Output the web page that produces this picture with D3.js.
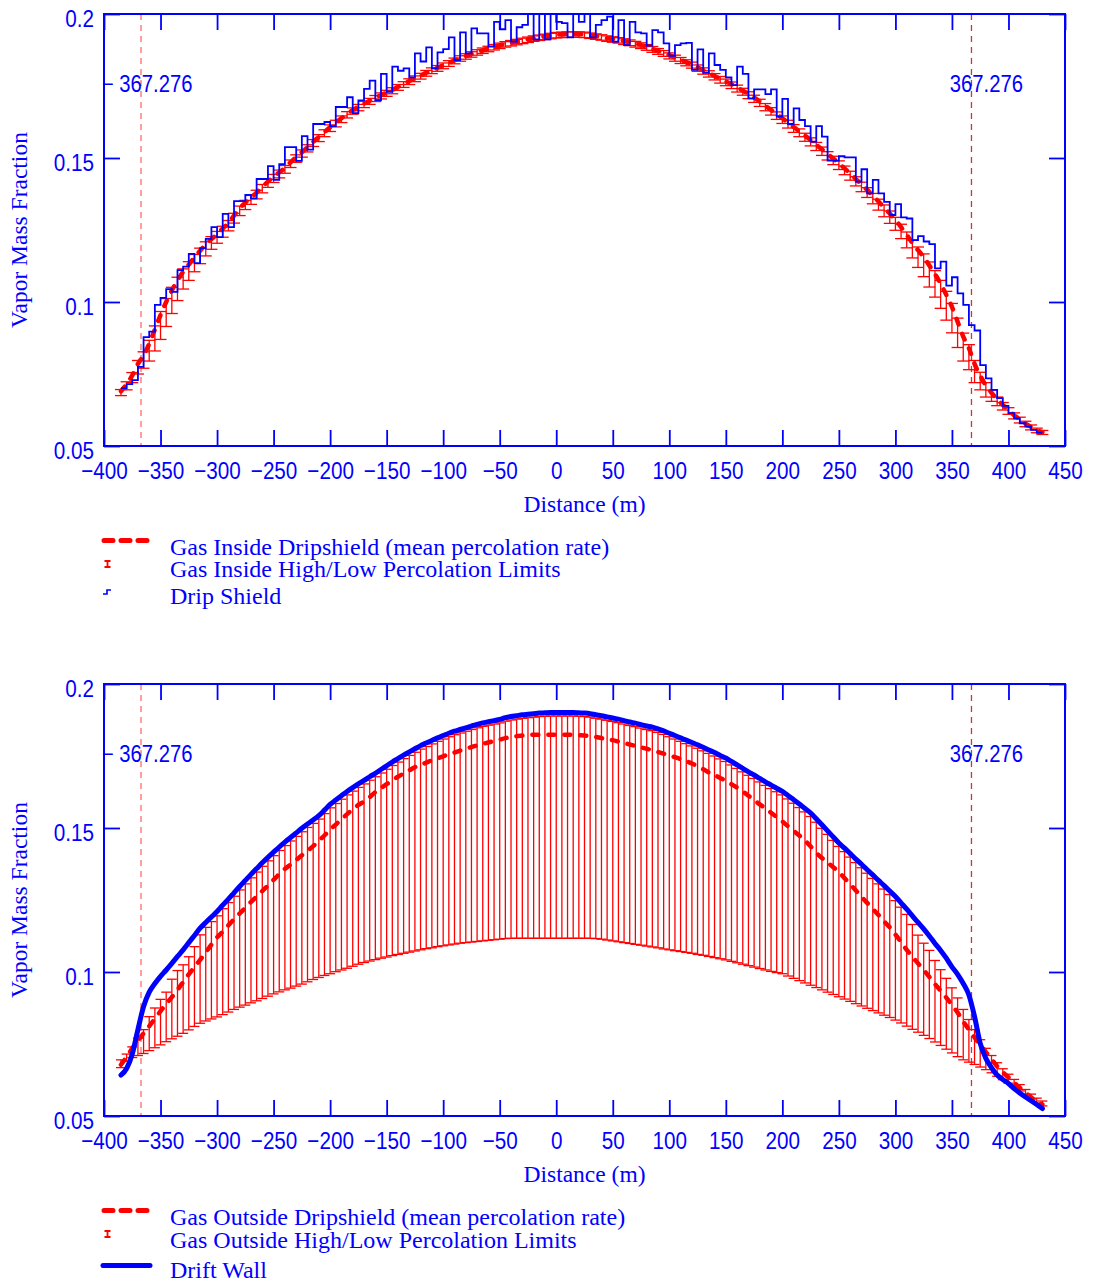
<!DOCTYPE html>
<html><head><meta charset="utf-8">
<script src="https://cdn.jsdelivr.net/npm/d3@7"></script>
<style>
body{margin:0;background:#fff;}
</style></head><body>
<svg id="c" width="1094" height="1285" xmlns="http://www.w3.org/2000/svg"></svg>
<script>
// ---------------- DATA ----------------
const distance = [
-385,-380,-375,-370,-365,-360,-355,-350,-345,-340,
-335,-330,-325,-320,-315,-310,-305,-300,-295,-290,
-285,-280,-275,-270,-265,-260,-255,-250,-245,-240,
-235,-230,-225,-220,-215,-210,-205,-200,-195,-190,
-185,-180,-175,-170,-165,-160,-155,-150,-145,-140,
-135,-130,-125,-120,-115,-110,-105,-100,-95,-90,
-85,-80,-75,-70,-65,-60,-55,-50,-45,-40,
-35,-30,-25,-20,-15,-10,-5,0,5,10,
15,20,25,30,35,40,45,50,55,60,
65,70,75,80,85,90,95,100,105,110,
115,120,125,130,135,140,145,150,155,160,
165,170,175,180,185,190,195,200,205,210,
215,220,225,230,235,240,245,250,255,260,
265,270,275,280,285,290,295,300,305,310,
315,320,325,330,335,340,345,350,355,360,
365,370,375,380,385,390,395,400,405,410,
415,420,425,430];

const xTickValues = [-400,-350,-300,-250,-200,-150,-100,-50,0,50,100,150,200,250,300,350,400,450];
const yTickValues = [0.05,0.1,0.15,0.2];
const refDistances = [-367.276, 367.276];
const refLabels = ["\u2212 367.276", "367.276"];

// Top panel: gas inside drip shield
const meanInside = [
.0690,.0715,.0745,.0785,.0815,.0855,.0905,.0955,.1000,.1040,
.1075,.1105,.1130,.1155,.1178,.1200,.1218,.1236,.1255,.1275,
.1300,.1325,.1345,.1362,.1380,.1400,.1418,.1435,.1450,.1466,
.1485,.1503,.1520,.1538,.1556,.1573,.1590,.1607,.1623,.1638,
.1653,.1666,.1678,.1689,.1699,.1709,.1718,.1727,.1736,.1747,
.1757,.1767,.1777,.1786,.1796,.1805,.1813,.1822,.1830,.1839,
.1847,.1854,.1861,.1868,.1874,.1880,.1886,.1891,.1896,.1900,
.1904,.1908,.1912,.1916,.1919,.1922,.1925,.1928,.1929,.1930,
.1930,.1930,.1929,.1926,.1923,.1920,.1916,.1913,.1910,.1906,
.1902,.1897,.1892,.1886,.1879,.1872,.1865,.1857,.1849,.1841,
.1833,.1825,.1815,.1805,.1795,.1785,.1775,.1766,.1756,.1745,
.1734,.1722,.1710,.1696,.1681,.1667,.1652,.1638,.1623,.1608,
.1593,.1578,.1562,.1546,.1530,.1514,.1498,.1482,.1464,.1446,
.1427,.1408,.1389,.1369,.1349,.1328,.1307,.1285,.1260,.1233,
.1205,.1180,.1156,.1127,.1097,.1063,.1025,.0983,.0932,.0880,
.0840,.0785,.0745,.0710,.0685,.0662,.0643,.0625,.0607,.0592,
.0578,.0566,.0555,.0548];

const insideErrDown = [
.0015,.0020,.0025,.0035,.0045,.0060,.0075,.0085,.0085,.0080,
.0070,.0060,.0055,.0050,.0045,.0040,.0035,.0032,.0030,.0028,
.0026,.0025,.0024,.0023,.0022,.0021,.0020,.0020,.0019,.0019,
.0018,.0018,.0017,.0017,.0016,.0016,.0016,.0015,.0015,.0015,
.0014,.0014,.0014,.0014,.0013,.0013,.0013,.0013,.0013,.0012,
.0012,.0012,.0012,.0012,.0012,.0012,.0012,.0012,.0012,.0012,
.0011,.0011,.0011,.0011,.0011,.0011,.0011,.0011,.0011,.0011,
.0011,.0011,.0011,.0011,.0011,.0011,.0011,.0011,.0011,.0011,
.0011,.0011,.0011,.0011,.0011,.0011,.0011,.0011,.0011,.0012,
.0012,.0012,.0012,.0012,.0012,.0012,.0012,.0013,.0013,.0013,
.0013,.0013,.0014,.0014,.0014,.0014,.0015,.0015,.0015,.0016,
.0016,.0016,.0017,.0017,.0017,.0018,.0018,.0018,.0019,.0019,
.0019,.0020,.0020,.0020,.0021,.0021,.0021,.0022,.0022,.0023,
.0024,.0025,.0026,.0028,.0030,.0032,.0034,.0036,.0040,.0045,
.0052,.0060,.0068,.0075,.0080,.0085,.0088,.0090,.0090,.0085,
.0075,.0065,.0050,.0040,.0030,.0022,.0018,.0015,.0013,.0012,
.0011,.0010,.0009,.0008];

const insideErrUp = [
.0006,.0008,.0010,.0012,.0012,.0012,.0012,.0012,.0012,.0011,
.0011,.0010,.0010,.0010,.0009,.0009,.0009,.0009,.0008,.0008,
.0008,.0008,.0008,.0008,.0008,.0008,.0008,.0008,.0008,.0008,
.0008,.0008,.0008,.0008,.0008,.0008,.0008,.0008,.0008,.0008,
.0008,.0008,.0008,.0008,.0008,.0008,.0008,.0008,.0008,.0008,
.0008,.0008,.0008,.0008,.0008,.0008,.0008,.0008,.0008,.0008,
.0008,.0008,.0008,.0008,.0008,.0008,.0008,.0008,.0008,.0008,
.0008,.0008,.0008,.0008,.0008,.0008,.0008,.0008,.0008,.0008,
.0008,.0008,.0008,.0008,.0008,.0008,.0008,.0008,.0008,.0008,
.0008,.0008,.0008,.0008,.0008,.0008,.0008,.0008,.0008,.0008,
.0008,.0008,.0008,.0008,.0008,.0008,.0008,.0008,.0008,.0008,
.0008,.0008,.0008,.0008,.0008,.0008,.0008,.0008,.0008,.0008,
.0008,.0008,.0008,.0008,.0008,.0008,.0008,.0008,.0008,.0008,
.0008,.0008,.0008,.0008,.0008,.0009,.0009,.0009,.0010,.0010,
.0010,.0011,.0011,.0012,.0012,.0012,.0012,.0012,.0012,.0012,
.0012,.0012,.0011,.0010,.0009,.0008,.0008,.0008,.0008,.0008,
.0008,.0007,.0007,.0006];

const dripShield = [
.0701,.0715,.0729,.0775,.0878,.0897,.0990,.1014,.1045,.1035,
.1111,.1123,.1167,.1135,.1187,.1219,.1260,.1225,.1306,.1260,
.1350,.1350,.1372,.1360,.1427,.1427,.1472,.1424,.1479,.1538,
.1538,.1490,.1576,.1529,.1618,.1618,.1625,.1611,.1677,.1677,
.1711,.1656,.1700,.1740,.1769,.1701,.1792,.1730,.1817,.1803,
.1811,.1780,.1863,.1835,.1884,.1811,.1867,.1878,.1919,.1840,
.1936,.1863,.1950,.1933,.1933,.1887,.1973,.1947,.1979,.1904,
.1954,.1962,.2005,.1912,.2005,.1912,.2005,.1973,.1968,.1919,
.2005,.1973,.2005,.1919,.1962,.1979,.1991,.1904,.1979,.1892,
.1973,.1936,.1933,.1890,.1944,.1936,.1898,.1855,.1892,.1898,
.1900,.1806,.1877,.1796,.1863,.1823,.1806,.1780,.1753,.1817,
.1792,.1707,.1738,.1738,.1722,.1738,.1644,.1705,.1618,.1672,
.1632,.1611,.1557,.1611,.1574,.1491,.1491,.1506,.1502,.1502,
.1418,.1461,.1377,.1424,.1377,.1348,.1302,.1340,.1294,.1290,
.1215,.1229,.1210,.1201,.1117,.1140,.1057,.1086,.1030,.0990,
.0920,.0901,.0781,.0735,.0695,.0666,.0639,.0614,.0596,.0579,
.0567,.0556,.0546,.0546];

// Bottom panel: gas outside drip shield
const meanOutside = [
.0678,.0705,.0735,.0762,.0787,.0812,.0838,.0864,.0889,.0913,
.0938,.0965,.0992,.1017,.1042,.1068,.1095,.1120,.1140,.1162,
.1183,.1203,.1223,.1243,.1262,.1281,.1300,.1320,.1340,.1358,
.1373,.1389,.1405,.1421,.1437,.1455,.1474,.1494,.1512,.1530,
.1548,.1565,.1580,.1592,.1607,.1625,.1639,.1652,.1665,.1678,
.1689,.1700,.1711,.1719,.1727,.1735,.1742,.1749,.1756,.1762,
.1769,.1775,.1781,.1787,.1792,.1797,.1802,.1807,.1812,.1816,
.1819,.1821,.1823,.1824,.1824,.1824,.1824,.1824,.1824,.1824,
.1823,.1822,.1821,.1819,.1816,.1812,.1809,.1805,.1800,.1795,
.1790,.1785,.1780,.1775,.1770,.1764,.1758,.1752,.1746,.1739,
.1732,.1724,.1714,.1704,.1693,.1684,.1674,.1664,.1652,.1640,
.1627,.1612,.1597,.1582,.1568,.1553,.1538,.1523,.1506,.1490,
.1474,.1457,.1436,.1414,.1396,.1380,.1364,.1347,.1326,.1305,
.1283,.1261,.1240,.1219,.1198,.1176,.1155,.1130,.1104,.1077,
.1053,.1030,.1007,.0983,.0958,.0935,.0911,.0886,.0859,.0828,
.0800,.0773,.0747,.0722,.0697,.0672,.0652,.0634,.0616,.0598,
.0581,.0565,.0551,.0540];

const outsideLow = [
.0668,.0690,.0703,.0710,.0717,.0727,.0737,.0747,.0758,.0768,
.0777,.0787,.0799,.0811,.0822,.0830,.0837,.0844,.0852,.0861,
.0870,.0878,.0885,.0893,.0900,.0908,.0916,.0924,.0931,.0938,
.0944,.0951,.0958,.0966,.0974,.0981,.0988,.0994,.1001,.1007,
.1013,.1020,.1027,.1033,.1038,.1043,.1048,.1052,.1057,.1061,
.1065,.1069,.1073,.1077,.1081,.1084,.1088,.1091,.1094,.1097,
.1100,.1102,.1104,.1106,.1108,.1110,.1112,.1114,.1116,.1117,
.1117,.1117,.1117,.1117,.1117,.1117,.1117,.1117,.1117,.1117,
.1117,.1117,.1117,.1117,.1116,.1114,.1111,.1108,.1105,.1102,
.1099,.1096,.1093,.1090,.1087,.1084,.1080,.1077,.1074,.1071,
.1068,.1065,.1061,.1058,.1054,.1050,.1046,.1042,.1037,.1032,
.1027,.1022,.1017,.1012,.1007,.1002,.0998,.0994,.0986,.0978,
.0970,.0962,.0954,.0946,.0938,.0930,.0922,.0914,.0906,.0898,
.0890,.0882,.0874,.0866,.0858,.0850,.0842,.0833,.0823,.0812,
.0801,.0791,.0780,.0769,.0757,.0745,.0732,.0719,.0706,.0695,
.0687,.0679,.0670,.0661,.0650,.0638,.0626,.0614,.0601,.0587,
.0573,.0559,.0545,.0535];

const outsideHigh = [
.0695,.0715,.0740,.0770,.0800,.0845,.0875,.0905,.0930,.0975,
.1005,.1025,.1053,.1088,.1129,.1155,.1175,.1195,.1220,.1241,
.1263,.1285,.1306,.1327,.1347,.1367,.1386,.1404,.1422,.1439,
.1455,.1471,.1487,.1502,.1516,.1531,.1550,.1570,.1585,.1600,
.1615,.1628,.1641,.1653,.1666,.1678,.1691,.1704,.1717,.1729,
.1741,.1752,.1763,.1774,.1783,.1792,.1801,.1809,.1817,.1824,
.1830,.1836,.1842,.1848,.1853,.1857,.1861,.1865,.1871,.1875,
.1878,.1881,.1883,.1885,.1887,.1888,.1889,.1889,.1889,.1889,
.1889,.1888,.1887,.1885,.1881,.1878,.1874,.1870,.1866,.1861,
.1856,.1852,.1847,.1842,.1838,.1832,.1825,.1817,.1809,.1801,
.1793,.1785,.1777,.1768,.1759,.1750,.1740,.1731,.1719,.1707,
.1695,.1683,.1672,.1660,.1648,.1637,.1626,.1615,.1601,.1586,
.1571,.1556,.1540,.1520,.1499,.1478,.1457,.1436,.1418,.1399,
.1380,.1362,.1343,.1325,.1306,.1288,.1269,.1248,.1225,.1200,
.1165,.1128,.1100,.1075,.1040,.1008,.0978,.0945,.0910,.0870,
.0835,.0800,.0765,.0735,.0710,.0685,.0664,.0645,.0627,.0609,
.0592,.0576,.0562,.0552];

const driftWall = [
.0642,.0665,.0715,.0800,.0880,.0930,.0960,.0985,.1007,.1030,
.1054,.1077,.1102,.1127,.1152,.1172,.1191,.1210,.1232,.1253,
.1275,.1297,.1318,.1339,.1359,.1379,.1398,.1416,.1434,.1451,
.1467,.1483,.1499,.1514,.1528,.1543,.1562,.1582,.1597,.1612,
.1627,.1640,.1653,.1665,.1678,.1690,.1703,.1716,.1729,.1741,
.1753,.1764,.1775,.1786,.1795,.1804,.1813,.1821,.1829,.1836,
.1842,.1848,.1854,.1860,.1865,.1869,.1873,.1877,.1883,.1887,
.1890,.1893,.1895,.1897,.1899,.1900,.1901,.1901,.1901,.1901,
.1901,.1900,.1899,.1897,.1893,.1890,.1886,.1882,.1878,.1873,
.1868,.1864,.1859,.1854,.1850,.1844,.1837,.1829,.1821,.1813,
.1805,.1797,.1789,.1780,.1771,.1762,.1752,.1743,.1731,.1719,
.1707,.1695,.1684,.1672,.1660,.1649,.1638,.1627,.1613,.1598,
.1583,.1568,.1552,.1532,.1511,.1490,.1469,.1448,.1430,.1411,
.1392,.1374,.1355,.1337,.1318,.1300,.1281,.1262,.1240,.1218,
.1195,.1172,.1150,.1125,.1099,.1075,.1048,.1018,.0992,.0960,
.0920,.0845,.0752,.0700,.0668,.0642,.0627,.0613,.0595,.0580,
.0566,.0553,.0540,.0526];

const legendTop = ["Gas Inside Dripshield (mean percolation rate)", "Gas Inside High/Low Percolation Limits", "Drip Shield"];
const legendBottom = ["Gas Outside Dripshield (mean percolation rate)", "Gas Outside High/Low Percolation Limits", "Drift Wall"];

// ---------------- DRAWING ----------------
const BLUE = "#0000ff", RED = "#ff0000";
const NUM_FONT = "'Liberation Sans', Arial, sans-serif";
const SERIF = "'Liberation Serif', 'Times New Roman', serif";
const svg = d3.select("#c");
const x = d3.scaleLinear().domain([-400, 450]).range([104, 1065]);
const PH = 432;

function drawPanel(cfg) {
  const top = cfg.top, bot = top + PH;
  const y = d3.scaleLinear().domain([0.05, 0.2]).range([bot, top]);
  const g = svg.append("g");
  const clipId = "clip" + cfg.id;
  svg.append("clipPath").attr("id", clipId).append("rect")
    .attr("x", x.range()[0]).attr("y", top).attr("width", x.range()[1] - x.range()[0]).attr("height", PH);

  // reference dashed lines
  refDistances.forEach((r, i) => {
    g.append("line").attr("x1", x(r)).attr("x2", x(r)).attr("y1", top).attr("y2", bot)
      .attr("stroke", i === 0 ? "#ff6a6a" : "#c23a3a").attr("stroke-width", 1.3)
      .attr("stroke-dasharray", "6,5");
    const ax = x(r) + 51.5;
    g.append("text").attr("x", ax).attr("y", top + 78)
      .attr("text-anchor", "end").attr("font-family", NUM_FONT).attr("font-size", 23)
      .attr("fill", BLUE).attr("xml:space", "preserve").style("white-space", "pre").text(refLabels[i])
      .attr("transform", `translate(${ax},0) scale(0.88,1) translate(${-ax},0)`);
  });

  // error bars
  const eb = g.append("g").attr("stroke", RED).attr("stroke-width", 1.3).attr("fill", "none");
  const capW = cfg.capW;
  distance.forEach((d, i) => {
    const lo = cfg.lo[i], hi = cfg.hi[i];
    const cx = x(d);
    eb.append("line").attr("x1", cx).attr("x2", cx).attr("y1", y(lo)).attr("y2", y(hi));
    eb.append("line").attr("x1", cx - capW / 2).attr("x2", cx + capW / 2).attr("y1", y(lo)).attr("y2", y(lo));
    eb.append("line").attr("x1", cx - capW / 2).attr("x2", cx + capW / 2).attr("y1", y(hi)).attr("y2", y(hi));
  });

  // mean dashed
  g.append("path")
    .datum(distance.map((d, i) => [d, cfg.mean[i]]))
    .attr("d", d3.line().curve(d3.curveMonotoneX).x(p => x(p[0])).y(p => y(p[1])))
    .attr("fill", "none").attr("stroke", RED).attr("stroke-width", 4.5)
    .attr("stroke-linecap", "round").attr("stroke-dasharray", "6,10");

  // blue series
  if (cfg.step) {
    g.append("path").attr("clip-path", `url(#${clipId})`)
      .datum(distance.map((d, i) => [d, cfg.blue[i]]))
      .attr("d", d3.line().curve(d3.curveStepAfter).x(p => x(p[0])).y(p => y(p[1])))
      .attr("fill", "none").attr("stroke", BLUE).attr("stroke-width", 1.8);
  } else {
    g.append("path").attr("clip-path", `url(#${clipId})`)
      .datum(distance.map((d, i) => [d, cfg.blue[i]]))
      .attr("d", d3.line().curve(d3.curveMonotoneX).x(p => x(p[0])).y(p => y(p[1])))
      .attr("fill", "none").attr("stroke", BLUE).attr("stroke-width", 5)
      .attr("stroke-linecap", "round").attr("stroke-linejoin", "round");
  }

  // axes with inward ticks
  const styleAxis = sel => {
    sel.select(".domain").remove();
    sel.selectAll(".tick line").attr("stroke", BLUE).attr("stroke-width", 1.8);
  };
  const xb = g.append("g").attr("transform", `translate(0,${bot})`)
    .call(d3.axisBottom(x).tickValues(xTickValues).tickSize(-16).tickPadding(16).tickFormat(d3.format("d")));
  styleAxis(xb);
  xb.selectAll(".tick text").attr("fill", BLUE).attr("font-family", NUM_FONT).attr("font-size", 23.5)
    .attr("transform", "scale(0.88,1)");
  const xt = g.append("g").attr("transform", `translate(0,${top})`)
    .call(d3.axisTop(x).tickValues(xTickValues).tickSize(-16).tickFormat(""));
  styleAxis(xt);
  const yl = g.append("g").attr("transform", `translate(${x.range()[0]},0)`)
    .call(d3.axisLeft(y).tickValues(yTickValues).tickSize(-16).tickPadding(10).tickFormat(d => String(d)));
  styleAxis(yl);
  yl.selectAll(".tick text").attr("fill", BLUE).attr("font-family", NUM_FONT).attr("font-size", 23.5)
    .attr("dy", "0.52em")
    .attr("transform", "translate(-10,0) scale(0.88,1) translate(10,0)");
  const yr = g.append("g").attr("transform", `translate(${x.range()[1]},0)`)
    .call(d3.axisRight(y).tickValues(yTickValues).tickSize(-16).tickFormat(""));
  styleAxis(yr);

  // frame
  g.append("rect").attr("x", x.range()[0]).attr("y", top)
    .attr("width", x.range()[1] - x.range()[0]).attr("height", PH)
    .attr("fill", "none").attr("stroke", BLUE).attr("stroke-width", 2);

  // axis titles
  g.append("text").attr("x", (x.range()[0] + x.range()[1]) / 2).attr("y", bot + 66)
    .attr("text-anchor", "middle").attr("font-family", SERIF).attr("font-size", 23.5)
    .attr("fill", BLUE).text("Distance (m)");
  g.append("text").attr("transform", `translate(27,${(top + bot) / 2}) rotate(-90)`)
    .attr("text-anchor", "middle").attr("font-family", SERIF).attr("font-size", 23.5)
    .attr("fill", BLUE).text("Vapor Mass Fraction");

  // legend
  const lg = g.append("g");
  const ly0 = bot + 94.5;
  lg.append("line").attr("x1", 104).attr("x2", 150).attr("y1", ly0).attr("y2", ly0)
    .attr("stroke", RED).attr("stroke-width", 5).attr("stroke-linecap", "round").attr("stroke-dasharray", "9,8");
  const ey = bot + 118;
  lg.append("path").attr("d", `M104.5,${ey - 3}H110.5M107.5,${ey - 3}V${ey + 3}M104.5,${ey + 3}H110.5`)
    .attr("stroke", RED).attr("stroke-width", 1.8).attr("fill", "none");
  const l3y = cfg.step ? bot + 146 : bot + 149.5;
  if (cfg.step) {
    lg.append("path").attr("d", `M103,${l3y + 2}H107V${l3y - 2}H111`)
      .attr("stroke", BLUE).attr("stroke-width", 1.6).attr("fill", "none");
  } else {
    lg.append("line").attr("x1", 103).attr("x2", 150).attr("y1", l3y).attr("y2", l3y)
      .attr("stroke", BLUE).attr("stroke-width", 5).attr("stroke-linecap", "round");
  }
  const baselines = cfg.step ? [bot + 109, bot + 131, bot + 158] : [bot + 109, bot + 132, bot + 162];
  cfg.legend.forEach((t, i) => {
    lg.append("text").attr("x", 170).attr("y", baselines[i]).attr("font-family", SERIF)
      .attr("font-size", 24).attr("fill", BLUE).text(t);
  });
}

drawPanel({
  id: "top", top: 14, capW: 12, step: true,
  mean: meanInside,
  lo: meanInside.map((m, i) => m - insideErrDown[i]),
  hi: meanInside.map((m, i) => m + insideErrUp[i]),
  blue: dripShield, legend: legendTop
});
drawPanel({
  id: "bot", top: 684, capW: 10, step: false,
  mean: meanOutside, lo: outsideLow, hi: outsideHigh,
  blue: driftWall, legend: legendBottom
});
</script>
</body></html>
